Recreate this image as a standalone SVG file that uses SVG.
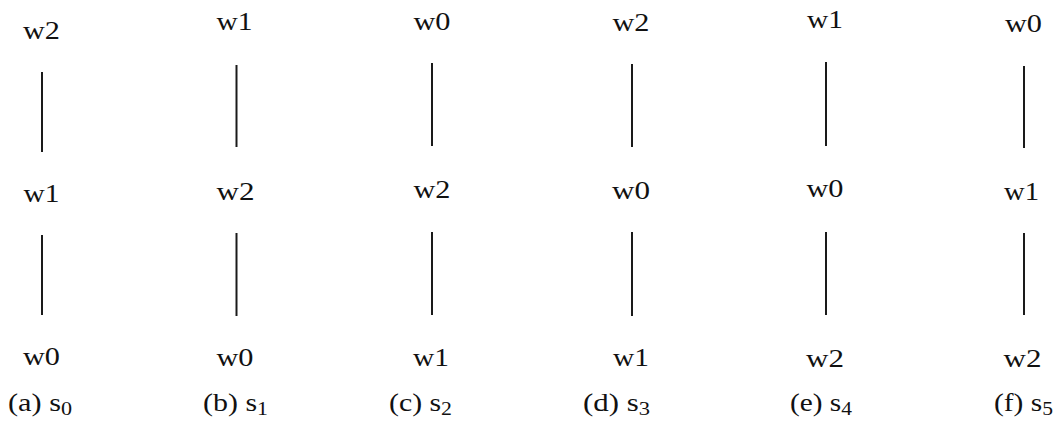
<svg xmlns="http://www.w3.org/2000/svg" width="1062" height="435" viewBox="0 0 1062 435">
<style>
.w{font-family:"Liberation Serif","Times New Roman",serif;font-size:26px;fill:#111;text-anchor:middle}
.c{font-family:"Liberation Serif","Times New Roman",serif;font-size:26px;fill:#111}
.sub{font-size:19px}
.e{stroke:#1a1a1a;stroke-width:2;fill:none}
</style>
<rect width="1062" height="435" fill="#fff"/>
<g id="connectors">
<line class="e" x1="42" y1="72" x2="42" y2="152"/>
<line class="e" x1="42" y1="235" x2="42" y2="315"/>
<line class="e" x1="236.5" y1="65" x2="236.5" y2="147"/>
<line class="e" x1="236.5" y1="233" x2="236.5" y2="316"/>
<line class="e" x1="432" y1="63" x2="432" y2="146"/>
<line class="e" x1="432" y1="232" x2="432" y2="315"/>
<line class="e" x1="632" y1="64" x2="632" y2="147"/>
<line class="e" x1="632" y1="232" x2="632" y2="316"/>
<line class="e" x1="826" y1="62" x2="826" y2="146"/>
<line class="e" x1="826" y1="232" x2="826" y2="315"/>
<line class="e" x1="1024" y1="66" x2="1024" y2="148"/>
<line class="e" x1="1024" y1="233" x2="1024" y2="315"/>
</g>
<g id="a">
<text class="w" x="41.5" y="39" textLength="37" lengthAdjust="spacingAndGlyphs">w2</text>
<text class="w" x="41.5" y="202" textLength="36" lengthAdjust="spacingAndGlyphs">w1</text>
<text class="w" x="41.5" y="365" textLength="37" lengthAdjust="spacingAndGlyphs">w0</text>
<text class="c" x="8" y="411" textLength="64" lengthAdjust="spacingAndGlyphs">(a) s<tspan class="sub" dy="4">0</tspan></text>
</g>
<g id="b">
<text class="w" x="234.5" y="30" textLength="36" lengthAdjust="spacingAndGlyphs">w1</text>
<text class="w" x="235.5" y="200" textLength="38" lengthAdjust="spacingAndGlyphs">w2</text>
<text class="w" x="235" y="366" textLength="37" lengthAdjust="spacingAndGlyphs">w0</text>
<text class="c" x="203" y="411" textLength="65" lengthAdjust="spacingAndGlyphs">(b) s<tspan class="sub" dy="4">1</tspan></text>
</g>
<g id="c">
<text class="w" x="432" y="30" textLength="37" lengthAdjust="spacingAndGlyphs">w0</text>
<text class="w" x="432" y="198" textLength="37" lengthAdjust="spacingAndGlyphs">w2</text>
<text class="w" x="431" y="366" textLength="36" lengthAdjust="spacingAndGlyphs">w1</text>
<text class="c" x="389" y="411" textLength="63" lengthAdjust="spacingAndGlyphs">(c) s<tspan class="sub" dy="4">2</tspan></text>
</g>
<g id="d">
<text class="w" x="631" y="31" textLength="37" lengthAdjust="spacingAndGlyphs">w2</text>
<text class="w" x="631" y="199" textLength="38" lengthAdjust="spacingAndGlyphs">w0</text>
<text class="w" x="631" y="366" textLength="36" lengthAdjust="spacingAndGlyphs">w1</text>
<text class="c" x="583" y="411" textLength="67" lengthAdjust="spacingAndGlyphs">(d) s<tspan class="sub" dy="4">3</tspan></text>
</g>
<g id="e">
<text class="w" x="825" y="28" textLength="36" lengthAdjust="spacingAndGlyphs">w1</text>
<text class="w" x="825" y="197" textLength="37" lengthAdjust="spacingAndGlyphs">w0</text>
<text class="w" x="825" y="367" textLength="38" lengthAdjust="spacingAndGlyphs">w2</text>
<text class="c" x="790" y="411" textLength="62" lengthAdjust="spacingAndGlyphs">(e) s<tspan class="sub" dy="4">4</tspan></text>
</g>
<g id="f">
<text class="w" x="1023.5" y="32" textLength="37" lengthAdjust="spacingAndGlyphs">w0</text>
<text class="w" x="1021.5" y="200" textLength="35" lengthAdjust="spacingAndGlyphs">w1</text>
<text class="w" x="1022.5" y="367" textLength="38" lengthAdjust="spacingAndGlyphs">w2</text>
<text class="c" x="994" y="411" textLength="59" lengthAdjust="spacingAndGlyphs">(f) s<tspan class="sub" dy="4">5</tspan></text>
</g>
</svg>
